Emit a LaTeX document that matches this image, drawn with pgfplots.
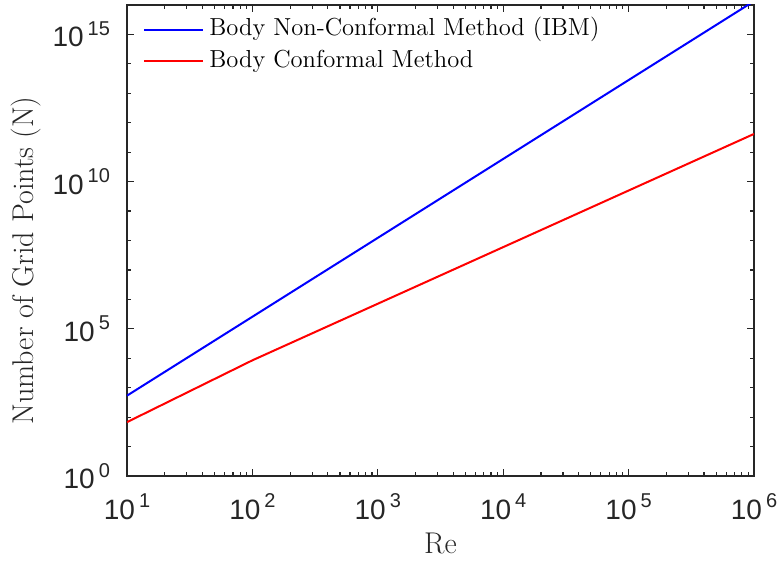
\documentclass[border=0pt]{standalone}
\usepackage{fontspec}
\usepackage{pgfplots}
\pgfplotsset{compat=1.18}
\newfontfamily\ticksf{Liberation Sans}
\definecolor{axgray}{HTML}{262626}
% MATLAB-style tick label: 10 with raised exponent
\newcommand{\tl}[1]{10\kern2pt\raisebox{5.8pt}{\fontsize{10}{10}\selectfont #1}}

\begin{document}
\begin{tikzpicture}
  \begin{loglogaxis}[
    scale only axis, width=313.5pt, height=235.5pt,
    xmin=10, xmax=1e6, ymin=1, ymax=1e16,
    axis line style={axgray, line width=0.9pt},
    tick style={axgray, line width=0.6pt},
    major tick length=3.5pt, minor tick length=2pt,
    tick align=inside, tick pos=both,
    xtick={1e1,1e2,1e3,1e4,1e5,1e6},
    xticklabels={\tl{1},\tl{2},\tl{3},\tl{4},\tl{5},\tl{6}},
    ytick={1,1e5,1e10,1e15},
    yticklabels={\tl{0},\tl{5},\tl{10},\tl{15}},
    minor ytick={1e1,1e2,1e3,1e4,1e6,1e7,1e8,1e9,1e11,1e12,1e13,1e14},
    minor xtick={20,30,40,50,60,70,80,90,200,300,400,500,600,700,800,900,
                 2000,3000,4000,5000,6000,7000,8000,9000,
                 20000,30000,40000,50000,60000,70000,80000,90000,
                 200000,300000,400000,500000,600000,700000,800000,900000},
    ticklabel style={font=\ticksf\fontsize{14}{16}\selectfont, text=axgray},
    xticklabel style={anchor=north, yshift=-5.3pt},
    yticklabel style={anchor=east, xshift=-5pt},
    xlabel={Re}, ylabel={Number of Grid Points (N)},
    label style={font=\fontsize{15}{17}\selectfont, text=axgray},
    xlabel style={at={(axis description cs:0.5,0)}, anchor=base, yshift=-38.5pt},
    ylabel style={at={(axis description cs:0,0.5)}, anchor=center,
      yshift=50.5pt, xshift=-10pt},
    legend style={at={(axis description cs:0,1)}, anchor=north west,
      xshift=8pt, yshift=-6.4pt, draw=none, fill=none, inner sep=0pt,
      font=\fontsize{12.3}{14}\selectfont, row sep=4.25pt, column sep=2.5pt,
      nodes={inner sep=0pt, text height=8.6pt, text depth=3pt}},
    legend cell align=left,
    legend image code/.code={\draw[#1] (0pt,0pt) -- (29.5pt,0pt);},
  ]
    % IBM
    \addplot[blue, line width=1pt] coordinates {(10,537) (1e6,1.35e16)};
    \addlegendentry{Body Non-Conformal Method (IBM)}
    % body conformal
    \addplot[red, line width=1pt] coordinates {(10,67.6) (100,8511) (1e6,4.17e11)};
    \addlegendentry{Body Conformal Method}
  \end{loglogaxis}
  \pgfresetboundingbox
  \path ([shift={(-63.5pt,-42pt)}]current axis.south west)
    rectangle ([shift={(12pt,2.5pt)}]current axis.north east);
\end{tikzpicture}
\end{document}
